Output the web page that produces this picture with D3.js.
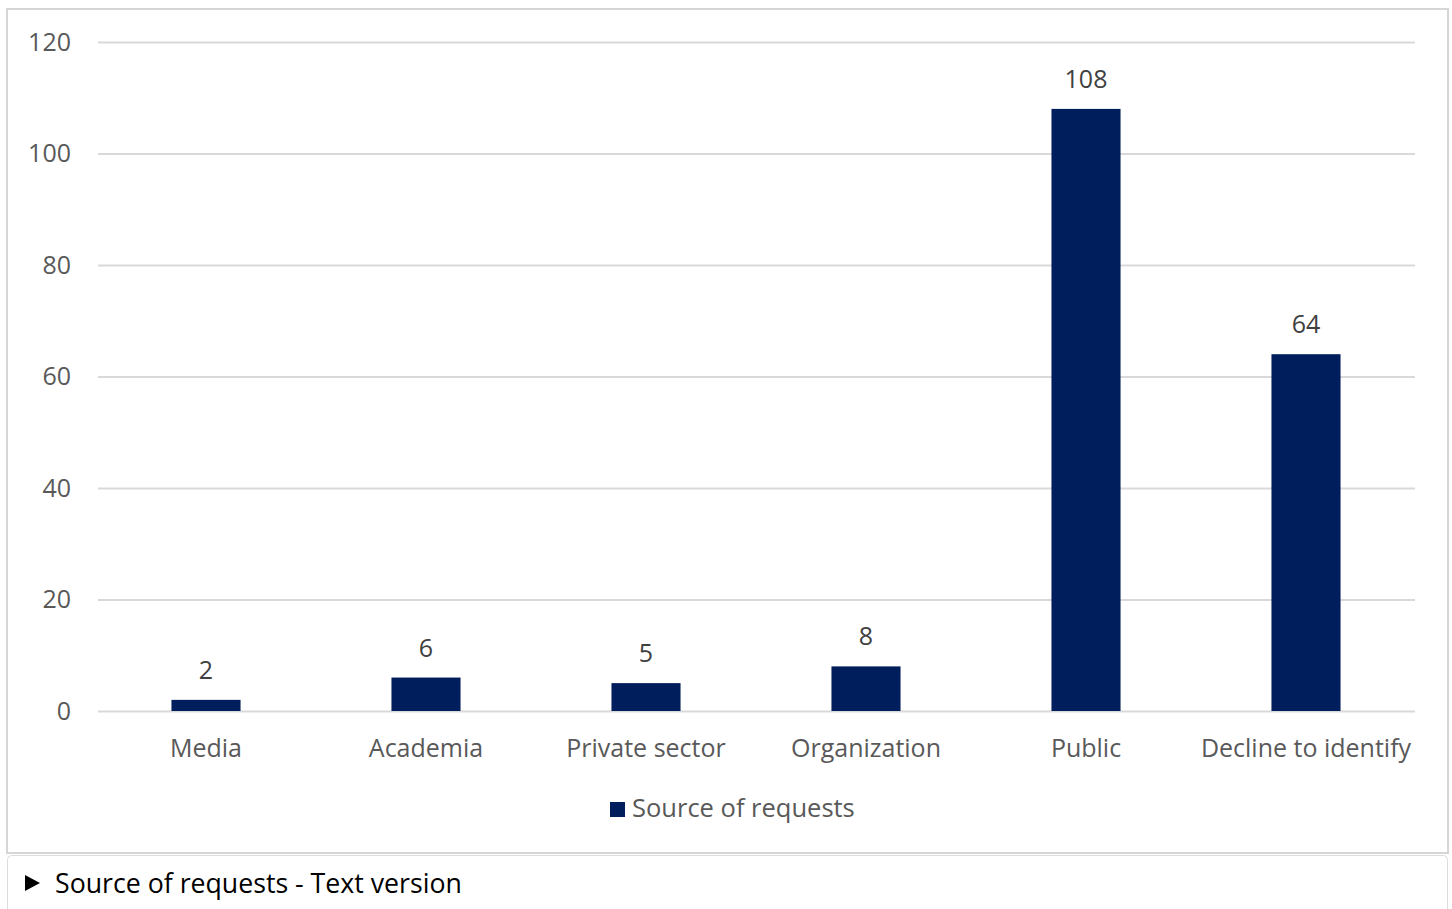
<!DOCTYPE html>
<html>
<head>
<meta charset="utf-8">
<script src="https://cdn.jsdelivr.net/npm/d3@7"></script>
<style>
  html, body { margin: 0; padding: 0; background: #fff; overflow: hidden; }
  svg { display: block; }
</style>
</head>
<body>
<svg id="chart" width="1452" height="909"></svg>
<script>
const categories = ["Media", "Academia", "Private sector", "Organization", "Public", "Decline to identify"];
const values = [2, 6, 5, 8, 108, 64];
const yTicks = [0, 20, 40, 60, 80, 100, 120];
const seriesName = "Source of requests";
const footerText = "Source of requests - Text version";

const svg = d3.select("#chart");
const font = "'Open Sans', 'DejaVu Sans', sans-serif";
const gray = "#595959";
const navy = "#001d5c";

// frames
svg.append("rect").attr("x", 7).attr("y", 9).attr("width", 1441).attr("height", 844)
  .attr("fill", "#fff").attr("stroke", "#d6d6d6").attr("stroke-width", 2);
svg.append("rect").attr("x", 7.5).attr("y", 855.5).attr("width", 1440).attr("height", 80)
  .attr("rx", 4).attr("fill", "#fff").attr("stroke", "#dcdcdc").attr("stroke-width", 1);

const x = d3.scaleBand().domain(categories).range([96, 1416]).paddingInner(0.686).paddingOuter(0.343);
const y = d3.scaleLinear().domain([0, 120]).range([711, 42]);

// gridlines
const yAxis = d3.axisLeft(y).tickValues(yTicks).tickSize(-(1415 - 98)).tickFormat(d3.format("d")).tickPadding(27);
const gy = svg.append("g").attr("transform", "translate(98,0)").call(yAxis);
gy.select(".domain").remove();
gy.selectAll(".tick line").attr("stroke", "#d9d9d9").attr("stroke-width", 2);
gy.selectAll(".tick text").attr("fill", gray).style("font-family", font).style("font-size", "25px");

// bars
svg.append("g").selectAll("rect").data(values).join("rect")
  .attr("x", (d, i) => x(categories[i]))
  .attr("y", d => y(d))
  .attr("width", x.bandwidth())
  .attr("height", d => y(0) - y(d))
  .attr("fill", navy);

// data labels
svg.append("g").selectAll("text").data(values).join("text")
  .attr("x", (d, i) => x(categories[i]) + x.bandwidth() / 2)
  .attr("y", d => y(d) - 21)
  .attr("text-anchor", "middle")
  .attr("fill", "#404040")
  .style("font-family", font).style("font-size", "25px")
  .text(d => d);

// x axis labels
const xAxis = d3.axisBottom(x).tickSize(0).tickPadding(28);
const gx = svg.append("g").attr("transform", "translate(0,711)").call(xAxis);
gx.select(".domain").remove();
gx.selectAll(".tick text").attr("fill", gray).style("font-family", font).style("font-size", "25px");

// legend
const lg = svg.append("g");
lg.append("rect").attr("x", 610).attr("y", 802).attr("width", 15).attr("height", 15).attr("fill", navy);
lg.append("text").attr("x", 632).attr("y", 817).attr("fill", gray)
  .style("font-family", font).style("font-size", "25.5px").text(seriesName);

// footer
svg.append("path").attr("d", "M25,875 L25,891 L40,883 Z").attr("fill", "#000");
svg.append("text").attr("x", 55).attr("y", 893).attr("fill", "#000")
  .style("font-family", font).style("font-size", "26.7px").text(footerText);
</script>
</body>
</html>
